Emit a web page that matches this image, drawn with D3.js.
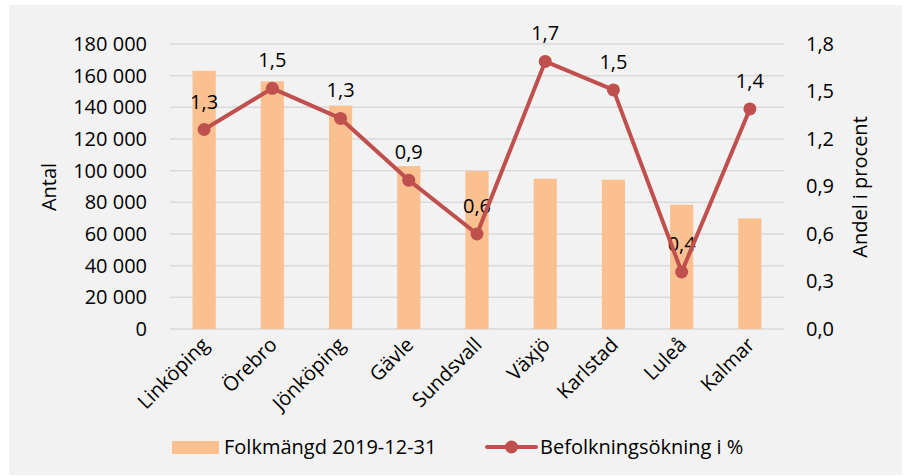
<!DOCTYPE html>
<html>
<head>
<meta charset="utf-8">
<script src="https://cdn.jsdelivr.net/npm/d3@7"></script>
<style>
  body { margin: 0; background: #ffffff; }
  text { font-family: "Open Sans", "Noto Sans", sans-serif; fill: #000000; }
</style>
</head>
<body>
<div id="chart"></div>
<script>
// data
var cities = ["Linköping", "Örebro", "Jönköping", "Gävle", "Sundsvall", "Växjö", "Karlstad", "Luleå", "Kalmar"];
var folkmangd = [163100, 156400, 141100, 102900, 99700, 94900, 94300, 78500, 69800];
var okning = [1.26, 1.52, 1.33, 0.94, 0.6, 1.69, 1.51, 0.36, 1.39];
var leftTicks = [0, 20000, 40000, 60000, 80000, 100000, 120000, 140000, 160000, 180000];
var rightTicks = [0, 0.3, 0.6, 0.9, 1.2, 1.5, 1.8];
var barName = "Folkmängd 2019-12-31";
var lineName = "Befolkningsökning i %";

var svgWidth = 908, svgHeight = 476;
var plot = { left: 170, right: 784, top: 44, bottom: 329 };

var sv = d3.formatLocale({ decimal: ",", thousands: " ", grouping: [3], currency: ["", " kr"] });
var fmtLeft = sv.format(",d");
var fmtRight = sv.format(".1f");

var svg = d3.select("#chart").append("svg")
  .attr("width", svgWidth)
  .attr("height", svgHeight);

// grey chart area
svg.append("rect")
  .attr("x", 9).attr("y", 5)
  .attr("width", 893).attr("height", 470)
  .attr("fill", "#f2f2f2");

var x = d3.scaleBand()
  .domain(cities)
  .range([plot.left, plot.right]);

var yLeft = d3.scaleLinear()
  .domain([0, 180000])
  .range([plot.bottom, plot.top]);

var yRight = d3.scaleLinear()
  .domain([0, 1.8])
  .range([plot.bottom, plot.top]);

// gridlines
svg.append("g")
  .selectAll("line")
  .data(leftTicks)
  .enter().append("line")
  .attr("x1", plot.left)
  .attr("x2", plot.right)
  .attr("y1", d => yLeft(d))
  .attr("y2", d => yLeft(d))
  .attr("stroke", "#d9d9d9")
  .attr("stroke-width", 1.5);

// left axis
var leftAxis = svg.append("g")
  .attr("transform", `translate(${plot.left - 23}, 0)`)
  .call(d3.axisLeft(yLeft).tickValues(leftTicks).tickFormat(fmtLeft).tickSize(0).tickPadding(0));
leftAxis.select(".domain").remove();
leftAxis.selectAll("text")
  .attr("font-size", 20)
  .attr("font-family", "Open Sans")
  .attr("fill", "#000");

// right axis
var rightAxis = svg.append("g")
  .attr("transform", `translate(${plot.right + 22}, 0)`)
  .call(d3.axisRight(yRight).tickValues(rightTicks).tickFormat(fmtRight).tickSize(0).tickPadding(0));
rightAxis.select(".domain").remove();
rightAxis.selectAll("text")
  .attr("font-size", 20)
  .attr("font-family", "Open Sans")
  .attr("fill", "#000");

// category labels
svg.append("g")
  .selectAll("text")
  .data(cities)
  .enter().append("text")
  .attr("transform", d => `translate(${x(d) + x.bandwidth() / 2 + 6}, 346) rotate(-45)`)
  .attr("text-anchor", "end")
  .attr("font-size", 20)
  .text(d => d);

// axis titles
svg.append("text")
  .attr("transform", `translate(56, 187) rotate(-90)`)
  .attr("text-anchor", "middle")
  .attr("font-size", 20)
  .text("Antal");

svg.append("text")
  .attr("transform", `translate(867, 187) rotate(-90)`)
  .attr("text-anchor", "middle")
  .attr("font-size", 20)
  .text("Andel i procent");

// bars
var barW = x.bandwidth() * 0.34;
svg.append("g")
  .selectAll("rect")
  .data(folkmangd)
  .enter().append("rect")
  .attr("x", (d, i) => x(cities[i]) + x.bandwidth() / 2 - barW / 2)
  .attr("y", d => yLeft(d))
  .attr("width", barW)
  .attr("height", d => yLeft(0) - yLeft(d))
  .attr("fill", "#fac090");

// data labels (under the line)
svg.append("g")
  .selectAll("text")
  .data(okning)
  .enter().append("text")
  .attr("x", (d, i) => x(cities[i]) + x.bandwidth() / 2)
  .attr("y", d => yRight(d) - 21)
  .attr("text-anchor", "middle")
  .attr("font-size", 20)
  .text(d => fmtRight(d));

// line
var line = d3.line()
  .x((d, i) => x(cities[i]) + x.bandwidth() / 2)
  .y(d => yRight(d));

svg.append("path")
  .datum(okning)
  .attr("d", line)
  .attr("fill", "none")
  .attr("stroke", "#c0504d")
  .attr("stroke-width", 4)
  .attr("stroke-linejoin", "round");

svg.append("g")
  .selectAll("circle")
  .data(okning)
  .enter().append("circle")
  .attr("cx", (d, i) => x(cities[i]) + x.bandwidth() / 2)
  .attr("cy", d => yRight(d))
  .attr("r", 6.5)
  .attr("fill", "#c0504d");

// legend
var legend = svg.append("g");
legend.append("rect")
  .attr("x", 172).attr("y", 441)
  .attr("width", 47).attr("height", 13)
  .attr("fill", "#fac090");
legend.append("text")
  .attr("x", 224).attr("y", 447)
  .attr("dy", "0.35em")
  .attr("font-size", 20)
  .text(barName);

legend.append("line")
  .attr("x1", 487).attr("x2", 536)
  .attr("y1", 447).attr("y2", 447)
  .attr("stroke", "#c0504d")
  .attr("stroke-width", 4)
  .attr("stroke-linecap", "round");
legend.append("circle")
  .attr("cx", 511.5).attr("cy", 447)
  .attr("r", 6.5)
  .attr("fill", "#c0504d");
legend.append("text")
  .attr("x", 540).attr("y", 447)
  .attr("dy", "0.35em")
  .attr("font-size", 20)
  .text(lineName);
</script>
</body>
</html>
